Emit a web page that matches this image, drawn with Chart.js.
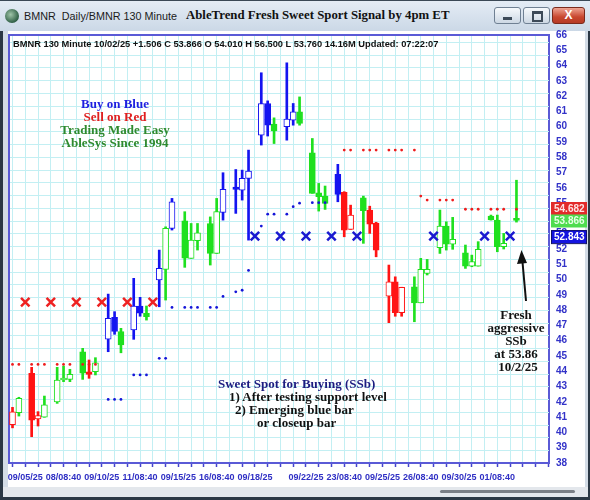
<!DOCTYPE html>
<html>
<head>
<meta charset="utf-8">
<script src="https://cdn.jsdelivr.net/npm/chart.js@4.4.1/dist/chart.umd.min.js"></script>
<style>
  html, body { margin: 0; padding: 0; }
  body { width: 590px; height: 500px; position: relative; overflow: hidden; background: #2b3845; font-family: "Liberation Sans", Arial, sans-serif; }
  .abs { position: absolute; }
  #titlebar { left: 0; top: 0; width: 590px; height: 31px; background: linear-gradient(#e4ecf5, #cbd8e6); border-top: 1px solid #3a4856; box-sizing: border-box; }
  #icon { left: 5px; top: 9px; width: 14px; height: 14px; border-radius: 50%; background: radial-gradient(circle at 40% 40%, #9fc4a8, #2f5f45 70%, #1c3a2a); }
  #appname { left: 24px; top: 10px; font-size: 10.8px; color: #1b1b1b; white-space: nowrap; }
  #headline { left: 186px; top: 8px; font-family: "Liberation Serif", "Times New Roman", serif; font-weight: bold; font-size: 12.8px; color: #111; white-space: nowrap; }
  .wbtn { top: 7px; height: 17px; border: 1px solid #6f8093; border-radius: 3px; background: linear-gradient(#f6f9fc, #cdd8e4); box-sizing: border-box; }
  #bmin { left: 494px; width: 27px; }
  #bmax { left: 523px; width: 27px; }
  #bclose { left: 552px; width: 33px; background: linear-gradient(#eea493, #c8472f 60%, #b63a24); border-color: #7a2a1c; color: #fff; font-weight: bold; font-size: 12px; text-align: center; line-height: 15px; }
  #bmin div { position: absolute; left: 8px; top: 9px; width: 9px; height: 3px; background: #3d4a58; }
  #bmax div { position: absolute; left: 8px; top: 3px; width: 7px; height: 6px; border: 2px solid #3d4a58; border-top-width: 3px; }
  #lframe { left: 3px; top: 31px; width: 5px; height: 458px; background: #d3dce6; }
  #rframe { left: 585px; top: 31px; width: 3px; height: 458px; background: #d3dce6; }
  #panel { left: 8px; top: 31px; width: 577px; height: 456px; background: #fff; }
  #status { left: 3px; top: 487px; width: 585px; height: 10px; background: #e3e7ec; }
  #scroll { left: 440px; top: 490px; width: 135px; height: 3px; border-radius: 2px; background: #7a7f86; }
  #chartbox { left: 0; top: 0; width: 590px; height: 500px; }
  #info { left: 13px; top: 39px; font-weight: bold; font-size: 9.3px; color: #111; white-space: nowrap; }
  .note { font-family: "Liberation Serif", "Times New Roman", serif; font-weight: bold; font-size: 13px; line-height: 13px; white-space: nowrap; }
  #legend { left: 55px; top: 97px; width: 120px; text-align: center; }
  #ssb { left: 218px; top: 377px; color: #111; }
  #fresh { left: 476px; top: 308px; width: 80px; text-align: center; color: #111; }
</style>
</head>
<body>
<div id="titlebar" class="abs"></div>
<div id="icon" class="abs"></div>
<div id="appname" class="abs">BMNR&nbsp; Daily/BMNR 130 Minute</div>
<div id="headline" class="abs">AbleTrend Fresh Sweet Sport Signal by 4pm ET</div>
<div id="bmin" class="abs wbtn"><div></div></div>
<div id="bmax" class="abs wbtn"><div></div></div>
<div id="bclose" class="abs wbtn">X</div>
<div id="lframe" class="abs"></div>
<div id="rframe" class="abs"></div>
<div id="panel" class="abs"></div>
<div id="status" class="abs"></div>
<div id="scroll" class="abs"></div>

<div id="chartbox" class="abs"><canvas id="chart" width="590" height="500"></canvas></div>

<div id="info" class="abs">BMNR 130 Minute 10/02/25 +1.506 C 53.866 O 54.010 H 56.500 L 53.760 14.16M Updated: 07:22:07</div>
<div id="legend" class="abs note">
  <div style="color:#1f1fe0">Buy on Blue</div>
  <div style="color:#e01f1f">Sell on Red</div>
  <div style="color:#2f8a2f">Trading Made Easy</div>
  <div style="color:#2f8a2f">AbleSys Since 1994</div>
</div>
<div id="ssb" class="abs note">
  <div style="color:#1c1c80">Sweet Spot for Buying (SSb)</div>
  <div style="margin-left:11px">1) After testing support level</div>
  <div style="margin-left:17px">2) Emerging blue bar</div>
  <div style="margin-left:39px">or closeup bar</div>
</div>
<div id="fresh" class="abs note">
  <div>Fresh</div><div>aggressive</div><div>SSb</div><div>at 53.86</div><div style="margin-left:4px">10/2/25</div>
</div>
<svg class="abs" style="left:0;top:0" width="590" height="500">
  <line x1="526" y1="301" x2="522.5" y2="262" stroke="#111" stroke-width="2"/>
  <polygon points="521.5,250 517,264 527,263" fill="#111"/>
</svg>

<script>
// 130-minute bars, one slot per bar; every 4th slot is the gap between sessions
const slots  = [0,1, 3,4,5, 7,8,9, 11,12,13, 15,16,17, 19,20,21, 23,24,25, 27,28,29, 31,32,33, 35,36,37, 39,40,41, 43,44,45, 47,48,49, 51,52,53, 55,56,57, 59,60,61, 63,64,65, 67,68,69, 71,72,73, 75,76,77, 79];
const opens  = [40.50,41.30, 43.87,40.88,41.00, 42.00,43.43,43.47, 45.28,43.97,43.97, 46.10,47.53,46.60, 46.70,48.27,47.79, 49.97,50.67,53.35, 53.85,51.39,52.54, 53.67,51.71,54.40, 56.05,55.85,56.62, 59.45,61.52,60.17, 60.00,60.43,60.98, 58.29,55.68,55.46, 56.88,55.70,53.28, 55.35,54.55,53.70, 48.92,49.86,47.83, 49.53,48.48,50.41, 52.08,53.50,52.32, 51.75,50.88,50.88, 54.15,53.89,52.15, 54.01];
const highs  = [41.64,42.30, 44.26,41.36,42.38, 44.26,44.34,44.13, 45.50,44.74,44.89, 49.05,47.90,46.81, 50.08,48.84,48.27, 51.93,53.45,55.31, 54.44,53.67,53.67, 54.10,55.31,56.99, 57.20,57.16,58.47, 63.53,61.69,60.58, 64.18,61.52,61.95, 59.23,56.29,56.12, 57.54,55.75,54.87, 55.46,54.80,53.75, 50.95,50.18,49.50, 50.18,51.39,51.32, 54.55,53.78,54.07, 52.26,51.60,52.48, 54.22,54.22,53.02, 56.50];
const lows   = [40.30,41.07, 39.72,40.42,40.99, 41.90,43.32,43.32, 43.47,43.54,43.76, 45.28,46.42,45.21, 46.09,47.60,47.35, 48.22,48.66,53.24, 50.80,51.39,51.93, 50.95,51.71,53.89, 54.33,55.20,52.58, 58.80,59.39,58.90, 59.12,60.10,60.10, 55.64,54.48,54.59, 55.09,52.80,53.28, 52.37,53.02,51.49, 47.18,47.60,47.60, 47.24,48.48,50.30, 51.71,51.93,51.98, 50.73,50.84,50.88, 53.89,51.82,52.00, 53.76];
const closes = [41.35,42.23, 40.80,41.10,41.80, 43.43,43.55,43.80, 43.87,43.80,44.56, 47.46,46.60,45.72, 48.27,47.80,47.57, 50.73,53.35,55.09, 51.40,52.58,53.06, 51.71,54.44,55.90, 55.90,56.62,57.10, 61.52,60.10,59.73, 60.50,60.98,60.21, 55.64,55.42,54.98, 55.57,53.24,54.22, 54.50,53.63,51.93, 49.86,47.83,49.49, 48.48,50.67,50.67, 53.50,52.32,52.63, 50.88,51.17,51.98, 53.90,52.15,52.37, 53.866];
// AbleTrend bar colour: b = buy (blue), r = sell (red), g = neutral (green)
const signal = ['r','g', 'r','r','g', 'g','g','g', 'g','r','g', 'b','b','g', 'b','b','g', 'b','g','b', 'g','g','g', 'g','g','b', 'b','b','b', 'b','b','g', 'b','b','g', 'g','g','g', 'b','r','r', 'g','r','r', 'r','r','r', 'g','g','g', 'g','g','g', 'g','g','g', 'g','g','g', 'g'];

// stop dots
const redDotSlots   = [0,1,3,4,5,7,8,9,11,12,13, 52,53,55,56,57,59,60,61,63, 64,65,67,68,69, 71,72,73,75,76,77,79];
const redDotValues  = [44.45,44.45,44.45,44.45,44.45,44.45,44.45,44.45,44.45,44.45,44.45, 58.47,58.47,58.47,58.47,58.47,58.47,58.47,58.47,58.47, 55.46,55.2,55.2,55.2,55.2, 54.6,54.6,54.6,54.6,54.6,54.6,54.6];
const blueDotSlots  = [15,16,17, 19,20,21, 23,24, 25,27,28,29,31,32, 33,35,36,37, 39,40,41, 43,44,45, 47,48,49];
const blueDotValues = [42.16,42.16,42.16, 43.76,43.76,43.76, 44.85,44.85, 48.18,48.18,48.18,48.18,48.18,48.18, 48.9,49.2,49.3,50.6, 53.5,54.28,54.28, 54.28,54.77,55.0, 55.03,55.03,55.03];

// X signals placed in the session gaps
const sellXSlots = [2,6,10,14,18,22];
const sellXValue = 48.53;
const buyXSlots  = [38,42,46,50,54,66,74,78];
const buyXValue  = 52.843;

// axis
const dateSlots  = [2,8,14,20,26,32,38,46,52,58,64,70,76];
const dateLabels = ['09/05/25','08/08:40','09/10/25','11/08:40','09/15/25','16/08:40','09/18/25','09/22/25','23/08:40','09/25/25','26/08:40','09/30/25','01/08:40'];
const yMin = 38, yMax = 66;

// last values shown on the price axis
const lastLevels = [54.682, 53.866, 52.843];
const lastFill   = ['#e22a2a', '#4fdc4f', '#1414e0'];
const lastText   = ['#ffe2e2', '#e6ffe6', '#ffffff'];

const sigColor = { r: '#ff1414', g: '#1fe01f', b: '#1414f0' };
const candleColor = signal.map(s => sigColor[s]);
const AXIS_BLUE = '#4444cc';
const GRID = '#c3eff3';

const squareGrid = {
  id: 'squareGrid',
  beforeDatasetsDraw(chart) {
    const { ctx, chartArea: a, scales: { x } } = chart;
    const step = x.getPixelForValue(2) - x.getPixelForValue(0);
    ctx.save();
    ctx.strokeStyle = GRID;
    ctx.lineWidth = 1;
    ctx.beginPath();
    for (let y = a.bottom - step; y > a.top; y -= step) {
      const yy = Math.round(y) + 0.5;
      ctx.moveTo(a.left, yy); ctx.lineTo(a.right, yy);
    }
    ctx.stroke();
    ctx.strokeStyle = '#5a5ad6';
    ctx.lineWidth = 2;
    ctx.beginPath();
    ctx.moveTo(a.left, a.bottom); ctx.lineTo(a.left, a.top); ctx.lineTo(a.right, a.top);
    ctx.stroke();
    ctx.restore();
  }
};

const levelBoxes = {
  id: 'levelBoxes',
  afterDraw(chart) {
    const { ctx, chartArea: a, scales: { y } } = chart;
    ctx.save();
    ctx.font = 'bold 10px "Liberation Sans", Arial, sans-serif';
    ctx.textBaseline = 'middle';
    lastLevels.forEach((v, i) => {
      const cy = y.getPixelForValue(v) + 0.5;
      ctx.fillStyle = lastFill[i];
      ctx.fillRect(a.right + 2, cy - 6.5, 36, 13);
      if (i === 2) { ctx.strokeStyle = '#10106a'; ctx.lineWidth = 1; ctx.strokeRect(a.right + 2.5, cy - 6, 35, 13); }
      ctx.fillStyle = lastText[i];
      ctx.fillText(v.toFixed(3), a.right + 5, cy + 0.5);
    });
    ctx.restore();
  }
};

new Chart(document.getElementById('chart'), {
  type: 'bar',
  data: {
    datasets: [
      {
        label: 'wick',
        data: slots.map((s, i) => ({ x: s, y: [lows[i], highs[i]] })),
        backgroundColor: candleColor,
        barThickness: 2,
        grouped: false,
        order: 5
      },
      {
        label: 'body',
        data: slots.map((s, i) => ({ x: s, y: [opens[i], closes[i]] })),
        backgroundColor: slots.map((s, i) => closes[i] >= opens[i] ? '#ffffff' : candleColor[i]),
        borderColor: candleColor,
        borderWidth: 1,
        borderSkipped: false,
        barThickness: 6,
        minBarLength: 2,
        grouped: false,
        order: 4
      },
      {
        type: 'line', label: 'sell stop',
        data: redDotSlots.map((s, i) => ({ x: s, y: redDotValues[i] })),
        showLine: false, pointRadius: 1.4, pointBorderWidth: 0,
        pointBackgroundColor: '#ee1c1c', order: 2
      },
      {
        type: 'line', label: 'buy stop',
        data: blueDotSlots.map((s, i) => ({ x: s, y: blueDotValues[i] })),
        showLine: false, pointRadius: 1.4, pointBorderWidth: 0,
        pointBackgroundColor: '#1515d8', order: 2
      },
      {
        type: 'line', label: 'sell',
        data: sellXSlots.map(s => ({ x: s, y: sellXValue })),
        showLine: false, pointStyle: 'crossRot', pointRadius: 6, pointBorderWidth: 2.5,
        pointBorderColor: '#ee2222', order: 1
      },
      {
        type: 'line', label: 'buy',
        data: buyXSlots.map(s => ({ x: s, y: buyXValue })),
        showLine: false, pointStyle: 'crossRot', pointRadius: 6, pointBorderWidth: 2.5,
        pointBorderColor: '#1a1ad0', order: 1
      }
    ]
  },
  options: {
    responsive: false,
    animation: false,
    devicePixelRatio: 1,
    layout: { padding: { left: 9, top: 35, right: 4, bottom: 15 } },
    plugins: { legend: { display: false }, tooltip: { enabled: false } },
    scales: {
      x: {
        type: 'linear', position: 'bottom', min: -0.55, max: 84.1, offset: false,
        grid: { offset: false, color: GRID, lineWidth: 1, tickLength: 4, tickColor: AXIS_BLUE, tickWidth: 1.5 },
        border: { color: '#5a5ad6', width: 2 },
        ticks: {
          stepSize: 2, autoSkip: false, maxRotation: 0, includeBounds: false, padding: 5,
          color: '#2f2fc4', font: { family: '"Liberation Sans", Arial, sans-serif', weight: 'bold', size: 9 },
          callback: v => { const k = dateSlots.indexOf(v); return k < 0 ? '' : dateLabels[k]; }
        },
        afterFit: s => { s.height = 22; }
      },
      y: {
        type: 'linear', position: 'right', min: yMin, max: yMax,
        grid: { drawOnChartArea: false, drawTicks: false },
        border: { color: '#5a5ad6', width: 2 },
        ticks: {
          stepSize: 1, autoSkip: false, padding: 7,
          color: '#3232c8', font: { family: '"Liberation Sans", Arial, sans-serif', weight: 'bold', size: 10 }
        },
        afterFit: s => { s.width = 37; }
      }
    }
  },
  plugins: [squareGrid, levelBoxes]
});
</script>
</body>
</html>
